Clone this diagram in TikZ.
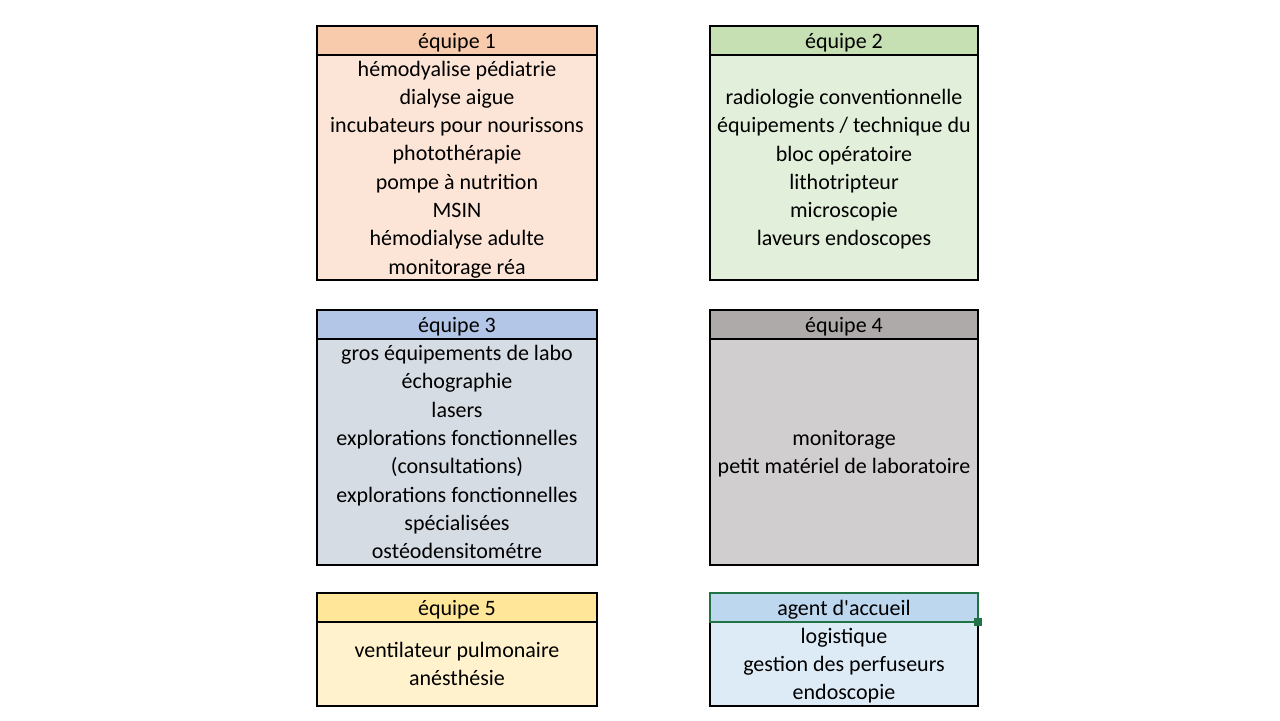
\documentclass[tikz,border=0pt]{standalone}
\usepackage{fontspec}
\setmainfont{Carlito}
\usetikzlibrary{positioning}
\definecolor{hdone}{HTML}{F8CBAD}
\definecolor{bdone}{HTML}{FCE4D6}
\definecolor{hdtwo}{HTML}{C6E0B4}
\definecolor{bdtwo}{HTML}{E2EFDA}
\definecolor{hdthree}{HTML}{B4C6E7}
\definecolor{bdthree}{HTML}{D6DCE4}
\definecolor{hdfour}{HTML}{AEAAAA}
\definecolor{bdfour}{HTML}{D0CECE}
\definecolor{hdfive}{HTML}{FFE699}
\definecolor{bdfive}{HTML}{FFF2CC}
\definecolor{hdsix}{HTML}{BDD7EE}
\definecolor{bdsix}{HTML}{DDEBF7}
\definecolor{selgreen}{HTML}{217346}
\tikzset{
  cell/.style={draw,line width=0.6pt,outer sep=0pt,inner sep=0pt,align=center,
    text depth=0pt,font={\fontsize{11}{14.15}\selectfont}},
  head/.style={cell,minimum height=14.5pt,anchor=north west},
  body/.style={cell,below=0pt of #1},
  wide/.style={minimum width=140pt},
  narrow/.style={minimum width=134pt}
}
\begin{document}
\begin{tikzpicture}[x=0.5pt,y=-0.5pt]
\useasboundingbox (0,0) rectangle (1280,720);
\node[head,wide,fill=hdone] (hd1) at (317,26) {équipe 1};
\node[body=hd1,wide,minimum height=112.5pt,fill=bdone] (bd1) {hémodyalise pédiatrie\\dialyse aigue\\incubateurs pour nourissons\\photothérapie\\pompe à nutrition\\MSIN\\hémodialyse adulte\\monitorage réa};
\node[head,narrow,fill=hdtwo] (hd2) at (710,26) {équipe 2};
\node[body=hd2,narrow,minimum height=112.5pt,fill=bdtwo] (bd2) {radiologie conventionnelle\\équipements / technique du\\bloc opératoire\\lithotripteur\\microscopie\\laveurs endoscopes};
\node[head,wide,fill=hdthree] (hd3) at (317,310) {équipe 3};
\node[body=hd3,wide,minimum height=113pt,fill=bdthree] (bd3) {gros équipements de labo\\échographie\\lasers\\explorations fonctionnelles\\(consultations)\\explorations fonctionnelles\\spécialisées\\ostéodensitométre};
\node[head,narrow,fill=hdfour] (hd4) at (710,310) {équipe 4};
\node[body=hd4,narrow,minimum height=113pt,fill=bdfour] (bd4) {monitorage\\petit matériel de laboratoire};
\node[head,wide,fill=hdfive] (hd5) at (317,593) {équipe 5};
\node[body=hd5,wide,minimum height=42pt,fill=bdfive] (bd5) {ventilateur pulmonaire\\anésthésie};
\node[head,narrow,fill=hdsix] (hd6) at (710,593) {agent d\textquotesingle accueil};
\node[body=hd6,narrow,minimum height=42pt,fill=bdsix] (bd6) {logistique\\gestion des perfuseurs\\endoscopie};
\draw[selgreen,line width=1pt] (hd6.north west) rectangle (hd6.south east);
\fill[selgreen] ([xshift=-1.8pt,yshift=-1.8pt]hd6.south east) rectangle ([xshift=1.8pt,yshift=1.8pt]hd6.south east);
\end{tikzpicture}
\end{document}
